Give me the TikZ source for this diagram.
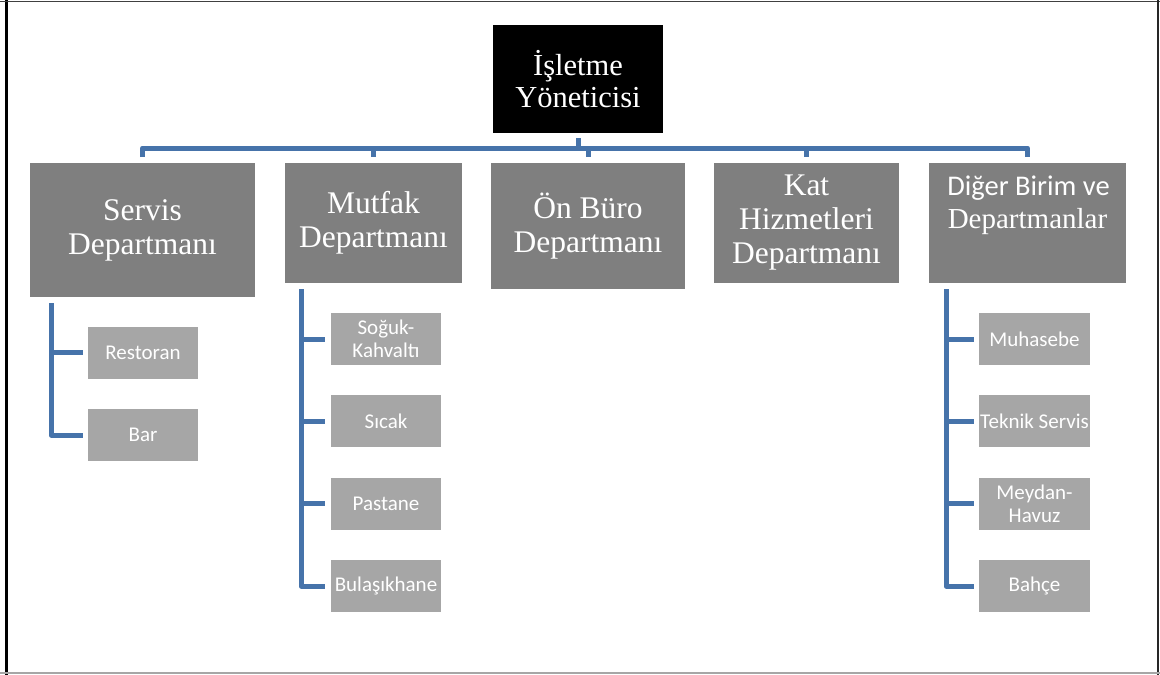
\documentclass[tikz,border=0pt]{standalone}
\usepackage{fontspec}
\setmainfont{Liberation Serif}
\newfontfamily\carl{Carlito}
\definecolor{deptgray}{RGB}{127,127,127}
\definecolor{unitgray}{RGB}{166,166,166}
\definecolor{linkblue}{RGB}{70,115,170}
\begin{document}
\begin{tikzpicture}[x=1pt,y=-1pt,
  boss/.style={fill=black, text=white, inner sep=0pt, outer sep=0pt, align=center,
    minimum width=170pt, minimum height=108pt, font=\fontsize{30.5}{32}\selectfont},
  dept/.style={fill=deptgray, text=white, inner sep=0pt, outer sep=0pt, align=center,
    font=\fontsize{31.5}{34}\selectfont},
  unit/.style={fill=unitgray, text=white, inner sep=0pt, outer sep=0pt, align=center,
    minimum width=110pt, minimum height=52pt, font=\carl\fontsize{21}{23}\selectfont},
  conn/.style={draw=linkblue, line width=5pt, line join=round},
]
\useasboundingbox (0,0) rectangle (1160,675);

% page frame
\draw[black, line width=3pt] (6,0) -- (6,675);
\draw[black!75, line width=1.5pt] (0,1.5) -- (1160,1.5);
\draw[black!85, line width=2pt] (1158,0) -- (1158,675);
\draw[black!35, line width=2pt] (0,673) -- (1160,673);

% manager
\node[boss] (top) at (578,79) {İşletme\\Yöneticisi};

% departments
\node[dept, minimum width=225pt, minimum height=134pt] (servis) at (142.5,230) {Servis\\Departmanı};
\node[dept, minimum width=177pt, minimum height=120pt] (mutfak) at (373.5,223) {Mutfak\\Departmanı};
\node[dept, minimum width=194pt, minimum height=126pt] (onburo) at (588,226) {Ön Büro\\Departmanı};
\node[dept, minimum width=185pt, minimum height=120pt] (kat) at (806.5,223) {Kat\\Hizmetleri\\Departmanı};
\node[dept, minimum width=197pt, minimum height=120pt] (diger) at (1027.5,223) {};
\node[anchor=base, text=white, inner sep=0pt, font=\carl\fontsize{28.5}{33}\selectfont] (digerA) at (1028.5,195) {Diğer Birim ve};
\node[anchor=base, text=white, inner sep=0pt, font=\fontsize{29}{33}\selectfont] (digerB) at (1027.5,228) {Departmanlar};

% units under Servis
\node[unit] (restoran) at (143,352.5) {Restoran};
\node[unit] (bar) at (143,435) {Bar};

% units under Mutfak
\node[unit] (soguk) at (386,339) {Soğuk-\\Kahvaltı};
\node[unit] (sicak) at (386,421) {Sıcak};
\node[unit] (pastane) at (386,503.5) {Pastane};
\node[unit] (bulasik) at (386,586) {Bulaşıkhane};

% units under Diğer
\node[unit, minimum width=111pt] (muhasebe) at (1034.5,339) {Muhasebe};
\node[unit, minimum width=111pt] (teknik) at (1034.5,421) {Teknik Servis};
\node[unit, minimum width=111pt] (meydan) at (1034.5,503.5) {Meydan-\\Havuz};
\node[unit, minimum width=111pt] (bahce) at (1034.5,586) {Bahçe};

% top-level bus
\coordinate (bus) at (0,148);
\draw[conn] ([yshift=-5pt]top.south) -- (top.south |- bus);
\draw[conn] ([yshift=6pt]servis.north) -- (servis.north |- bus) -- (diger.north |- bus) -- ([yshift=6pt]diger.north);
\foreach \d in {mutfak,onburo,kat}
  \draw[conn] (\d.north |- bus) -- ([yshift=6pt]\d.north);

% Servis branch
\coordinate (sv) at (51,0);
\draw[conn] (sv |- servis.south) ++(0,6) |- ([xshift=-5pt]bar.west);
\draw[conn] (sv |- restoran.west) -- ([xshift=-5pt]restoran.west);

% Mutfak branch
\coordinate (mv) at (301,0);
\draw[conn] (mv |- mutfak.south) ++(0,6) |- ([xshift=-6pt]bulasik.west);
\foreach \u in {soguk,sicak,pastane}
  \draw[conn] (mv |- \u.west) -- ([xshift=-6pt]\u.west);

% Diğer branch
\coordinate (dv) at (946,0);
\draw[conn] (dv |- diger.south) ++(0,6) |- ([xshift=-5pt]bahce.west);
\foreach \u in {muhasebe,teknik,meydan}
  \draw[conn] (dv |- \u.west) -- ([xshift=-5pt]\u.west);
\end{tikzpicture}
\end{document}
